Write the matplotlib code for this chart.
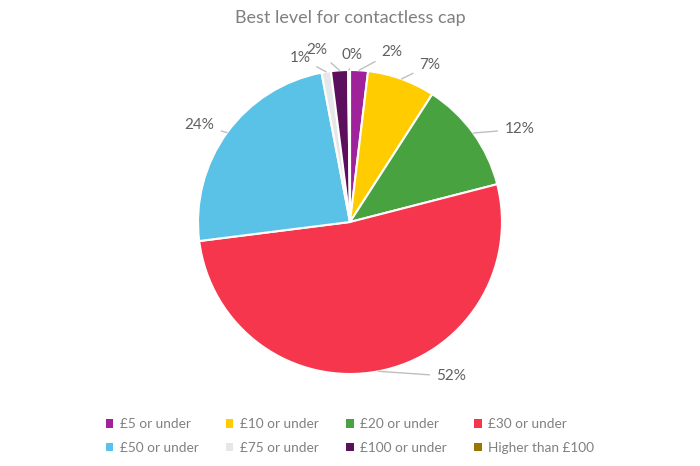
import numpy as np
import matplotlib.pyplot as plt
from matplotlib.patches import Patch

plt.rcParams['font.family'] = ['Lato', 'DejaVu Sans']

categories = ["£5 or under", "£10 or under", "£20 or under", "£30 or under",
              "£50 or under", "£75 or under", "£100 or under", "Higher than £100"]
shares = [1.9, 7.2, 11.9, 52.0, 24.0, 1.0, 1.8, 0.2]
labels = ["2%", "7%", "12%", "52%", "24%", "1%", "2%", "0%"]
colors = ["#A0229B", "#FFCC00", "#48A23F", "#F5364C",
          "#5BC2E7", "#E6E7E9", "#5C0F5C", "#9A7500"]

# label placement: radius factor and angular shift (deg, clockwise) from slice middle
label_r = [1.15, 1.16, 1.27, 1.215, 1.18, 1.13, 1.15, 1.10]
label_shift = [10.5, 7.2, 7.1, -22.5, -3.1, -8.0, -7.0, 1.1]

fig = plt.figure(figsize=(7, 4.66), dpi=100)
ax = fig.add_axes([0, 0, 1, 1])

wedges, _ = ax.pie(shares, colors=colors, startangle=90, counterclock=False,
                   radius=1.0, wedgeprops=dict(edgecolor="white", linewidth=1.5))

# pie resets the limits, so set them afterwards (152 px per unit, centre at 350,222)
scale = 152.0
ax.set_aspect("auto")
ax.set_xlim(-350 / scale, 350 / scale)
ax.set_ylim(-244 / scale, 222 / scale)
ax.axis("off")

total = sum(shares)
cum = 0.0
for i, s in enumerate(shares):
    mid = (cum + s / 2) / total * 360
    cum += s
    a = np.radians(mid)
    edge = (np.sin(a), np.cos(a))
    b = np.radians(mid + label_shift[i])
    pos = (label_r[i] * np.sin(b), label_r[i] * np.cos(b))
    ax.annotate(labels[i], xy=edge, xytext=pos, ha="center", va="center",
                fontsize=11, color="#606060",
                arrowprops=dict(arrowstyle="-", color="#BFBFBF", lw=1,
                                shrinkA=3, shrinkB=0))

fig.text(0.5, 1 - 18 / 466, "Best level for contactless cap", ha="center",
         va="center", fontsize=13, color="#7F7F7F")

# legend fills column by column, so reorder to read row by row
order = [0, 4, 1, 5, 2, 6, 3, 7]
handles = [Patch(facecolor=colors[k], edgecolor="none") for k in order]
fig.legend(handles, [categories[k] for k in order], ncol=4, loc="center",
           bbox_to_anchor=(0.5, 1 - 436 / 466), frameon=False,
           fontsize=9.8, labelcolor="#808080", handlelength=0.55, handleheight=0.55,
           handletextpad=0.5, columnspacing=2.0, labelspacing=0.85)

fig.savefig("out.png", dpi=100)
